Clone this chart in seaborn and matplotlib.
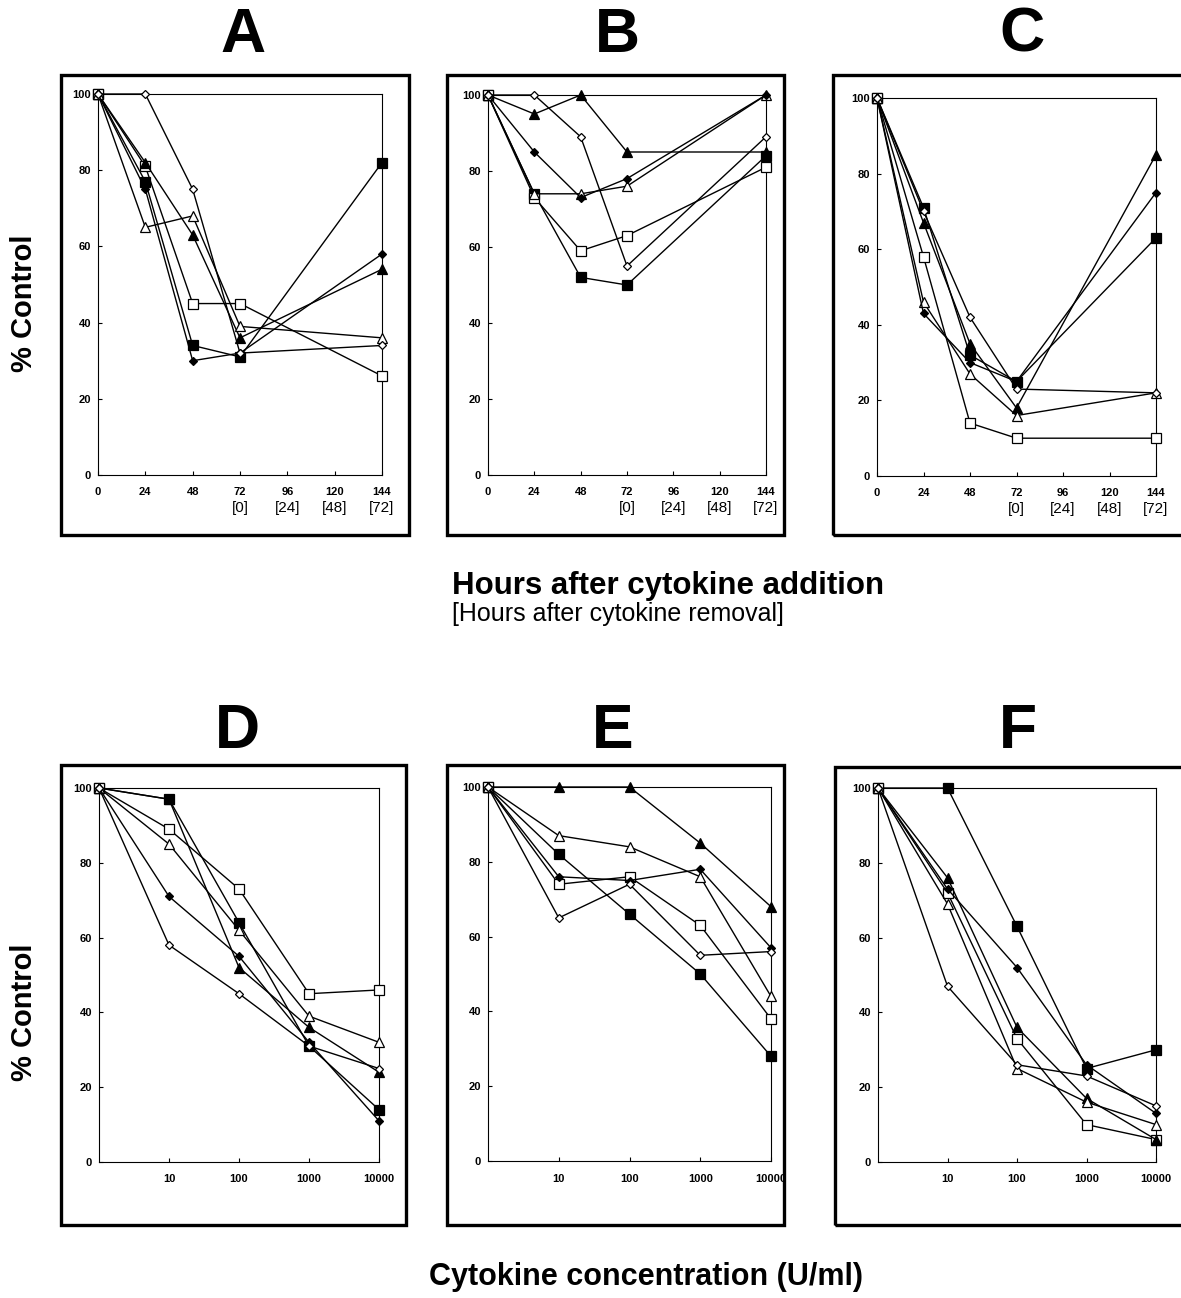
import matplotlib
matplotlib.use("Agg")
import matplotlib.pyplot as plt
import seaborn as sns
from matplotlib.patches import Rectangle
from matplotlib.ticker import NullLocator

sns.set_theme(style="white")
plt.rcParams["font.family"] = ["Liberation Sans", "DejaVu Sans"]
plt.rcParams["text.color"] = "black"
plt.rcParams["axes.labelcolor"] = "black"
plt.rcParams["xtick.color"] = "black"
plt.rcParams["ytick.color"] = "black"

# ---------------- data ----------------
hours = [0, 24, 48, 72, 144]
hour_ticks = [0, 24, 48, 72, 96, 120, 144]
removal_ticks = [72, 96, 120, 144]
removal_labels = ["[0]", "[24]", "[48]", "[72]"]
conc = [1, 10, 100, 1000, 10000]
conc_ticks = [10, 100, 1000, 10000]
conc_labels = ["10", "100", "1000", "10000"]
y_ticks = [0, 20, 40, 60, 80, 100]

# Panel A
a_sq_fill = [100, 77, 34, 31, 82]
a_sq_open = [100, 81, 45, 45, 26]
a_tri_fill = [100, 82, 63, 36, 54]
a_tri_open = [100, 65, 68, 39, 36]
a_dia_fill = [100, 75, 30, 32, 58]
a_dia_open = [100, 100, 75, 32, 34]
# Panel B
b_sq_fill = [100, 74, 52, 50, 84]
b_sq_open = [100, 73, 59, 63, 81]
b_tri_fill = [100, 95, 100, 85, 85]
b_tri_open = [100, 74, 74, 76, 100]
b_dia_fill = [100, 85, 73, 78, 100]
b_dia_open = [100, 100, 89, 55, 89]
# Panel C
c_sq_fill = [100, 71, 32, 25, 63]
c_sq_open = [100, 58, 14, 10, 10]
c_tri_fill = [100, 67, 35, 18, 85]
c_tri_open = [100, 46, 27, 16, 22]
c_dia_fill = [100, 43, 30, 25, 75]
c_dia_open = [100, 70, 42, 23, 22]
# Panel D
d_sq_fill = [100, 97, 64, 31, 14]
d_sq_open = [100, 89, 73, 45, 46]
d_tri_fill = [100, 97, 52, 36, 24]
d_tri_open = [100, 85, 62, 39, 32]
d_dia_fill = [100, 71, 55, 32, 11]
d_dia_open = [100, 58, 45, 31, 25]
# Panel E
e_sq_fill = [100, 82, 66, 50, 28]
e_sq_open = [100, 74, 76, 63, 38]
e_tri_fill = [100, 100, 100, 85, 68]
e_tri_open = [100, 87, 84, 76, 44]
e_dia_fill = [100, 76, 75, 78, 57]
e_dia_open = [100, 65, 74, 55, 56]
# Panel F
f_sq_fill = [100, 100, 63, 25, 30]
f_sq_open = [100, 72, 33, 10, 6]
f_tri_fill = [100, 76, 36, 17, 6]
f_tri_open = [100, 69, 25, 16, 10]
f_dia_fill = [100, 73, 52, 26, 13]
f_dia_open = [100, 47, 26, 23, 15]

# ---------------- figure ----------------
W, H = 1181, 1298
fig = plt.figure(figsize=(W / 100, H / 100), dpi=100)


def fx(x):
    return x / W


def fy(y):
    return 1 - y / H


def add_axes_px(x0, x1, y0, y1):
    return fig.add_axes([fx(x0), fy(y1), (x1 - x0) / W, (y1 - y0) / H])


def box_px(x0, x1, y0, y1):
    fig.add_artist(Rectangle((fx(x0), fy(y1)), (x1 - x0) / W, (y1 - y0) / H,
                             transform=fig.transFigure, fill=False,
                             lw=2.4, ec="black", clip_on=False))


styles = [
    ("s", 6.5, "black"),
    ("s", 6.5, "white"),
    ("^", 7.0, "black"),
    ("^", 7.0, "white"),
    ("D", 4.3, "black"),
    ("D", 4.3, "white"),
]


def draw_series(ax, xs, series):
    for ys, (mk, ms, fc) in zip(series, styles):
        sns.lineplot(x=xs, y=ys, ax=ax, color="black", linewidth=1.0,
                     marker=mk, markersize=ms, markerfacecolor=fc,
                     markeredgecolor="black", markeredgewidth=0.9,
                     clip_on=False, sort=False, zorder=3)


def style_axes(ax):
    ax.set_ylim(0, 100)
    ax.set_yticks(y_ticks)
    ax.set_yticklabels([str(v) for v in y_ticks], fontsize=8, fontweight="bold")
    for sp in ax.spines.values():
        sp.set_visible(True)
        sp.set_color("black")
        sp.set_linewidth(0.8)
    ax.tick_params(axis="both", direction="in", length=3, width=0.8,
                   color="black", labelcolor="black",
                   top=False, right=False, bottom=True, left=True)
    ax.tick_params(axis="y", pad=5)
    ax.tick_params(axis="x", pad=9)
    ax.set_xlabel("")
    ax.set_ylabel("")
    ax.set_facecolor("white")


def time_panel(ax, series):
    draw_series(ax, hours, series)
    style_axes(ax)
    ax.set_xlim(0, 144)
    ax.set_xticks(hour_ticks)
    ax.set_xticklabels([str(v) for v in hour_ticks], fontsize=8, fontweight="bold")
    for xv, lab in zip(removal_ticks, removal_labels):
        ax.annotate(lab, xy=(xv, 0), xycoords=("data", "axes fraction"),
                    xytext=(0, -24), textcoords="offset points",
                    ha="center", va="center", fontsize=11, color="black")


def conc_panel(ax, series):
    draw_series(ax, conc, series)
    ax.set_xscale("log")
    style_axes(ax)
    ax.set_xlim(1, 10000)
    ax.set_xticks(conc_ticks)
    ax.set_xticklabels(conc_labels, fontsize=8, fontweight="bold")
    ax.xaxis.set_minor_locator(NullLocator())


# boxes
box_px(61, 409, 75, 535)
box_px(447, 784, 75, 535)
box_px(833, 1230, 75, 535)
box_px(61, 406, 765, 1225)
box_px(447, 784, 765, 1225)
box_px(835, 1230, 767, 1225)

axA = add_axes_px(98, 382, 94, 475)
axB = add_axes_px(488, 766, 95, 475)
axC = add_axes_px(877, 1156, 98, 476)
axD = add_axes_px(99, 379, 788, 1162)
axE = add_axes_px(488, 771, 787, 1161)
axF = add_axes_px(878, 1156, 788, 1162)

time_panel(axA, [a_sq_fill, a_sq_open, a_tri_fill, a_tri_open, a_dia_fill, a_dia_open])
time_panel(axB, [b_sq_fill, b_sq_open, b_tri_fill, b_tri_open, b_dia_fill, b_dia_open])
time_panel(axC, [c_sq_fill, c_sq_open, c_tri_fill, c_tri_open, c_dia_fill, c_dia_open])
conc_panel(axD, [d_sq_fill, d_sq_open, d_tri_fill, d_tri_open, d_dia_fill, d_dia_open])
conc_panel(axE, [e_sq_fill, e_sq_open, e_tri_fill, e_tri_open, e_dia_fill, e_dia_open])
conc_panel(axF, [f_sq_fill, f_sq_open, f_tri_fill, f_tri_open, f_dia_fill, f_dia_open])

# panel letters
for lab, x, y in [("A", 243, 35), ("B", 617, 35), ("C", 1022, 35),
                  ("D", 237, 731), ("E", 613, 731), ("F", 1018, 731)]:
    fig.text(fx(x), fy(y), lab, ha="center", va="center",
             fontsize=45, fontweight="bold", color="black")

# y labels
for y in [303, 1012]:
    fig.text(fx(24), fy(y), "% Control", rotation=90, ha="center", va="center",
             fontsize=21, fontweight="bold", color="black")

# x labels
fig.text(fx(452), fy(586), "Hours after cytokine addition", ha="left", va="center",
         fontsize=22.5, fontweight="bold", color="black")
fig.text(fx(452), fy(614), "[Hours after cytokine removal]", ha="left", va="center",
         fontsize=18, color="black")
fig.text(fx(646), fy(1277), "Cytokine concentration (U/ml)", ha="center", va="center",
         fontsize=22, fontweight="bold", color="black")

fig.savefig("out.png", dpi=100)
